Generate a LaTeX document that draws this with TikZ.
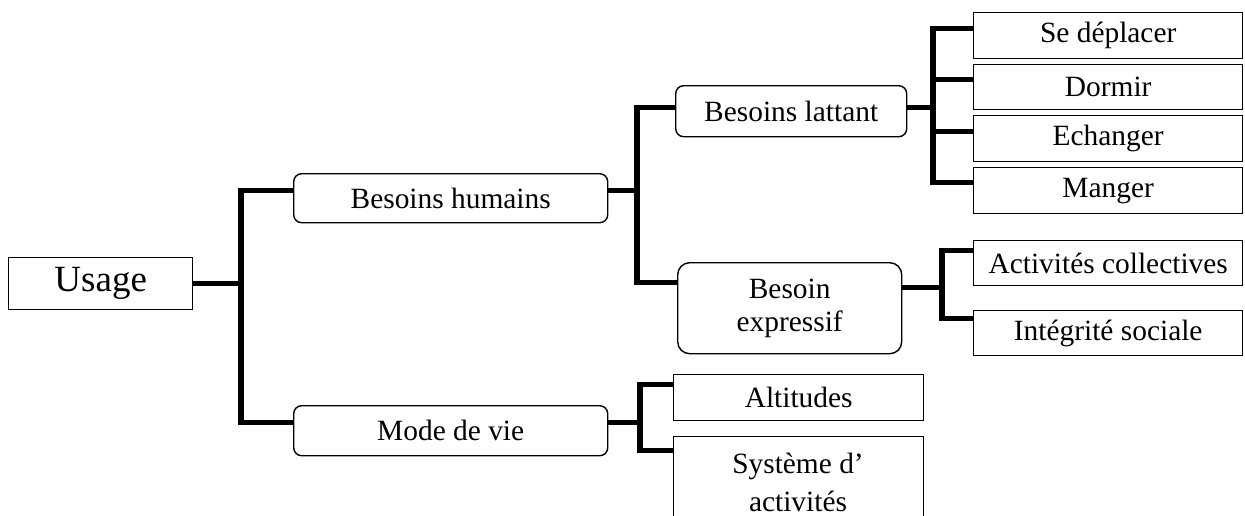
\documentclass[tikz,border=0pt]{standalone}
\usepackage{fontspec}
\setmainfont{Liberation Serif}
\begin{document}
\begin{tikzpicture}[x=1pt,y=-1pt,
  box/.style={draw=black,line width=1.4pt,inner sep=0pt,align=center,
    anchor=north west,font=\fontsize{29.4}{33}\selectfont},
  rbox/.style={box,rounded corners=8pt},
  conn/.style={draw=black,line width=5.5pt,line join=miter}]
\useasboundingbox (0,0) rectangle (1245,515);
\clip (0,0) rectangle (1245,515);
\fill[white] (0,0) rectangle (1245,515);

% root
\node[box,minimum width=184pt,minimum height=52pt,
  font=\fontsize{37}{42}\selectfont] (usage) at (8,257) {Usage};

% second level
\node[rbox,minimum width=314pt,minimum height=49pt] (hum) at (293,173) {Besoins humains};
\node[rbox,minimum width=314pt,minimum height=50pt] (mode) at (293,405) {Mode de vie};

% third level
\node[rbox,minimum width=224pt,minimum height=91pt,rounded corners=12pt] (exp) at (677,262) {Besoin\\expressif};
\node[rbox,minimum width=231pt,minimum height=51pt] (lat) at (675,85) {Besoins lattant};
\node[box,minimum width=250pt,minimum height=46pt] (alt) at (673,374) {Altitudes};
\node[box,minimum width=250pt,minimum height=92pt] (sys) at (673,436) {};
\node[font=\fontsize{29.4}{38}\selectfont,align=center,inner sep=0pt] (systxt) at (798,482) {Système d’\\activités};

% leaves
\node[box,minimum width=269pt,minimum height=46pt] (dep) at (973,12) {Se déplacer};
\node[box,minimum width=269pt,minimum height=45pt] (dor) at (973,64) {Dormir};
\node[box,minimum width=269pt,minimum height=46pt] (ech) at (973,115) {Echanger};
\node[box,minimum width=269pt,minimum height=46pt] (man) at (973,167) {Manger};
\node[box,minimum width=269pt,minimum height=45pt] (col) at (973,240) {Activités collectives};
\node[box,minimum width=269pt,minimum height=45pt] (int) at (973,310) {Intégrité sociale};

% attachment points of the connectors on the boxes
\coordinate (humW)  at ([yshift=7.5pt]hum.west);
\coordinate (humE)  at ([yshift=7.5pt]hum.east);
\coordinate (modeW) at ([yshift=8pt]mode.west);
\coordinate (modeE) at ([yshift=8pt]mode.east);
\coordinate (latW)  at ([yshift=3.5pt]lat.west);
\coordinate (latE)  at ([yshift=3.5pt]lat.east);
\coordinate (expW)  at ([yshift=25.5pt]exp.west);
\coordinate (expE)  at ([yshift=20.5pt]exp.east);
\coordinate (altW)  at ([yshift=13pt]alt.west);
\coordinate (sysW)  at ([yshift=32pt]sys.west);
\coordinate (depW)  at ([yshift=7pt]dep.west);
\coordinate (dorW)  at ([yshift=7.5pt]dor.west);
\coordinate (echW)  at ([yshift=7pt]ech.west);
\coordinate (manW)  at ([yshift=8pt]man.west);
\coordinate (colW)  at ([yshift=12.5pt]col.west);
\coordinate (intW)  at ([yshift=14.5pt]int.west);

% bus lines of the tree
\coordinate (b1) at (241,0);
\coordinate (b2) at (637,0);
\coordinate (b3) at (933,0);
\coordinate (b4) at (942,0);
\coordinate (b5) at (640,0);

% Usage
\draw[conn] (usage.east) -- (b1 |- usage.east);
\draw[conn] (humW) -| (b1 |- modeW) -- (modeW);

% Besoins humains
\draw[conn] (humE) -- (b2 |- humE);
\draw[conn] (latW) -| (b2 |- expW) -- (expW);

% Besoins lattant
\draw[conn] (latE) -- (b3 |- latE);
\draw[conn] (depW) -| (b3 |- manW) -- (manW);
\draw[conn] (dorW) -- (b3 |- dorW);
\draw[conn] (echW) -- (b3 |- echW);

% Besoin expressif
\draw[conn] (expE) -- (b4 |- expE);
\draw[conn] (colW) -| (b4 |- intW) -- (intW);

% Mode de vie
\draw[conn] (modeE) -- (b5 |- modeE);
\draw[conn] (altW) -| (b5 |- sysW) -- (sysW);
\end{tikzpicture}
\end{document}
